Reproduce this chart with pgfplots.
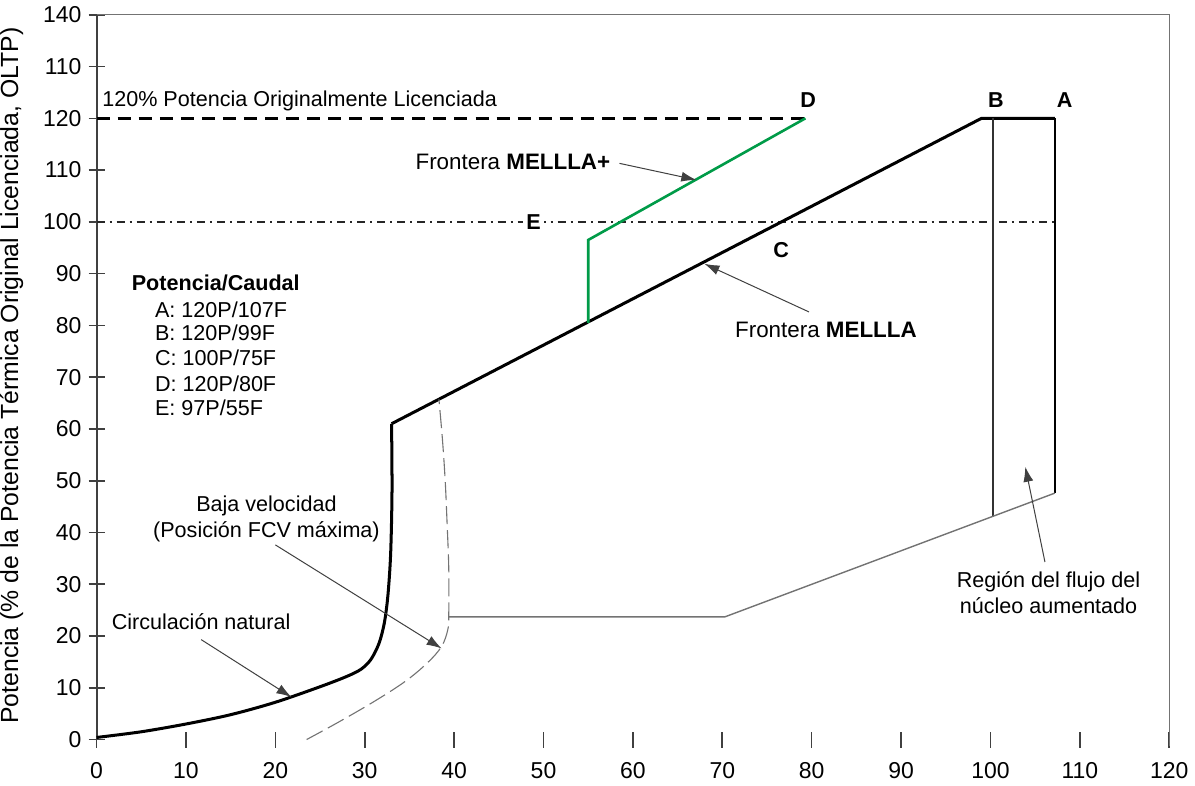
\documentclass[border=0pt]{standalone}
\usepackage{fontspec}
\setmainfont{Liberation Sans}
\usepackage{pgfplots}
\pgfplotsset{compat=1.18}
\usetikzlibrary{arrows.meta}
\definecolor{mgreen}{RGB}{0,155,72}
\definecolor{lgray}{RGB}{115,115,115}

\begin{document}
\begin{tikzpicture}[font=\fontsize{10.8}{12.5}\selectfont,
  arr/.style={-{Latex[length=7.5bp,width=5bp]}, line width=0.5bp, black!75},
  lbl/.style={font=\fontsize{10.8}{12.5}\selectfont\bfseries}]
\begin{axis}[
  scale only axis, width=535bp, height=361.5bp,
  xmin=0, xmax=120, ymin=0, ymax=140,
  axis lines=left,
  axis line style={-},
  x axis line style={draw=none},
  y axis line style={line width=1bp, draw=black!75},
  tick align=center,
  major tick length=8bp,
  tick style={line width=0.8bp, black!75},
  xtick={0,10,...,120},
  ytick={0,10,...,140},
  yticklabels={0,10,20,30,40,50,60,70,80,90,100,110,120,110,140},
  /pgf/number format/assume math mode=true,
  ticklabel style={font=\fontsize{11.5}{13}\selectfont},
  xticklabel style={yshift=-4bp},
  clip=false,
]
% marco superior y derecho
\draw[lgray, line width=0.6bp] (axis cs:0,140) -- (axis cs:120,140) -- (axis cs:120,-1.2);

% líneas de referencia
\addplot[black, line width=1.4bp, dash pattern=on 6.5bp off 4bp] coordinates {(0,120) (79.3,120)};
\addplot[black!85, line width=1bp, dash pattern=on 4bp off 2.5bp on 1bp off 2.5bp] coordinates {(0,100) (107.2,100)};

% circulación natural
\addplot[black, line width=1.5bp, smooth, tension=0.5] coordinates {
  (0,0.4) (5,1.5) (10,3) (15,4.8) (20,7.2) (25,10.2) (28,12.2) (29.6,13.6)
  (30.7,15.5) (31.6,18.6) (32.2,22.6) (32.6,28) (32.9,36) (33.05,48) (33,61)};
% frontera MELLLA y límite superior
\addplot[black, line width=1.5bp] coordinates {(33,61) (99,120) (107.2,120)};
\addplot[black, line width=1.1bp] coordinates {(107.2,120) (107.2,47.6)};
\addplot[black!80, line width=0.7bp] coordinates {(100.3,120) (100.3,43.1)};

% frontera MELLLA+
\addplot[mgreen, line width=1.3bp] coordinates {(55,80.5) (55,96.5) (79.3,120)};

% baja velocidad
\addplot[lgray, line width=0.55bp, dash pattern=on 9bp off 3bp, smooth, tension=0.6] coordinates {
  (23.5,0) (27,3.3) (31,7.3) (34.5,11.2) (37,14.8) (38.6,18) (39.3,21.3)
  (39.4,24.2) (39.4,33) (39.2,42.3) (39.0,50) (38.7,57.8) (38.3,65.7)};
\addplot[lgray, line width=0.7bp] coordinates {(39.4,23.7) (70.3,23.7) (107.2,47.6)};

% textos
\node[rotate=90, inner sep=0pt, font=\fontsize{12.4}{14}\selectfont] at (axis cs:-9.5,70.3) {Potencia (\% de la Potencia Térmica Original Licenciada, OLTP)};
\node[anchor=west, inner sep=0pt] at (axis cs:0.6,123.4) {120\% Potencia Originalmente Licenciada};
\node[lbl] at (axis cs:79.6,123.6) {D};
\node[lbl] at (axis cs:100.6,123.6) {B};
\node[lbl] at (axis cs:108.3,123.6) {A};
\node[lbl, fill=white, inner sep=1.5bp] at (axis cs:48.9,100) {E};
\node[lbl] at (axis cs:76.6,94.6) {C};

\node[anchor=west, inner sep=0pt, lbl] at (axis cs:3.9,88.2) {Potencia/Caudal};
\node[anchor=west, inner sep=0pt] at (axis cs:6.5,83.0) {A: 120P/107F};
\node[anchor=west, inner sep=0pt] at (axis cs:6.5,78.5) {B: 120P/99F};
\node[anchor=west, inner sep=0pt] at (axis cs:6.5,73.7) {C: 100P/75F};
\node[anchor=west, inner sep=0pt] at (axis cs:6.5,68.8) {D: 120P/80F};
\node[anchor=west, inner sep=0pt] at (axis cs:6.5,64.0) {E: 97P/55F};

\node[anchor=east, inner sep=0pt, font=\fontsize{11.2}{13}\selectfont] at (axis cs:57.5,111.5) {Frontera \textbf{MELLLA+}};
\draw[arr] (axis cs:58.5,111.3) -- (axis cs:67.1,108.1);
\node[anchor=west, inner sep=0pt, font=\fontsize{11.2}{13}\selectfont] at (axis cs:71.4,79.1) {Frontera \textbf{MELLLA}};
\draw[arr] (axis cs:79.7,82.6) -- (axis cs:68,91.9);

\node[inner sep=0pt] at (axis cs:19.0,45.2) {Baja velocidad};
\node[inner sep=0pt] at (axis cs:19.0,40.1) {(Posición FCV máxima)};
\draw[arr] (axis cs:20,37.6) -- (axis cs:38.6,17.6);

\node[inner sep=0pt] at (axis cs:11.7,22.7) {Circulación natural};
\draw[arr] (axis cs:11.7,19.3) -- (axis cs:21.8,8.2);

\node[inner sep=0pt] at (axis cs:106.5,30.4) {Región del flujo del};
\node[inner sep=0pt] at (axis cs:106.5,25.9) {núcleo aumentado};
\draw[arr] (axis cs:106.1,34.3) -- (axis cs:103.9,52.7);
\end{axis}
\end{tikzpicture}
\end{document}
